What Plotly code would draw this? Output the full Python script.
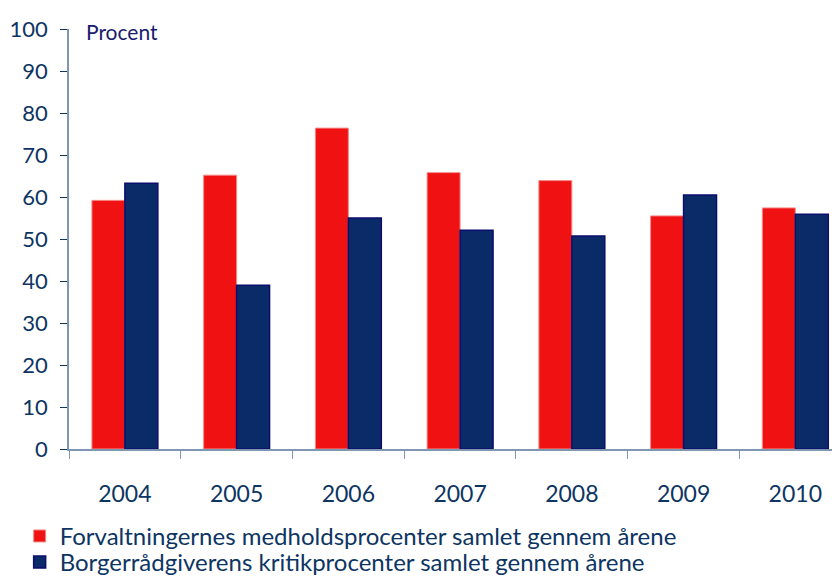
import plotly.graph_objects as go

years = ["2004", "2005", "2006", "2007", "2008", "2009", "2010"]
medhold = [59.2, 65.2, 76.4, 65.8, 63.9, 55.5, 57.4]
kritik = [63.3, 39.0, 55.0, 52.1, 50.7, 60.5, 55.9]
name_medhold = "Forvaltningernes medholdsprocenter samlet gennem årene"
name_kritik = "Borgerrådgiverens kritikprocenter samlet gennem årene"

FONT = "Lato"
TXT = "#0d3563"

fig = go.Figure()
fig.add_trace(go.Bar(x=years, y=medhold, name=name_medhold, legend="legend", showlegend=True,
                     marker=dict(color="#f01212", line=dict(color="#f58a8a", width=1))))
fig.add_trace(go.Bar(x=years, y=kritik, name=name_kritik, legend="legend2", showlegend=True,
                     marker=dict(color="#0b2a68", line=dict(color="#0d0d6e", width=1.5))))

leg_common = dict(orientation="v", xanchor="left", yanchor="middle", visible=True,
                  font=dict(size=24, color=TXT, family=FONT), bgcolor="rgba(0,0,0,0)")
# the page body adds an 8px offset, so the figure is 832x569 placed at (8, 8)
fig.update_layout(
    width=832, height=569,
    margin=dict(l=61, r=0, t=21, b=127.5, autoexpand=False),
    plot_bgcolor="white", paper_bgcolor="white",
    barmode="group", bargap=0.41, bargroupgap=0,
    showlegend=True,
    font=dict(family=FONT, color=TXT),
    legend=dict(x=-0.064, y=-0.208, **leg_common),
    legend2=dict(x=-0.064, y=-0.270, **leg_common),
    annotations=[dict(text="Procent", xref="paper", yref="paper", x=0.019, y=0.995,
                      xanchor="left", yanchor="middle", showarrow=False,
                      font=dict(size=21, color="#1a1a6e", family=FONT))],
)
fig.update_xaxes(type="category", range=[-0.5, 6.40], showline=True, linecolor="#7f97b0",
                 linewidth=1.5, ticks="outside", tickson="boundaries", ticklen=8,
                 tickcolor="#7f97b0", tickfont=dict(size=23, color=TXT),
                 ticklabelstandoff=24, showgrid=False, automargin=False)
fig.update_yaxes(range=[0, 100], dtick=10, showline=True, linecolor="#7f97b0", linewidth=1.5,
                 ticks="outside", ticklen=7, tickcolor="#0d3563", showgrid=False,
                 zeroline=False, tickfont=dict(size=22, color=TXT), ticklabelstandoff=8,
                 automargin=False)

fig.write_html("out.html")
